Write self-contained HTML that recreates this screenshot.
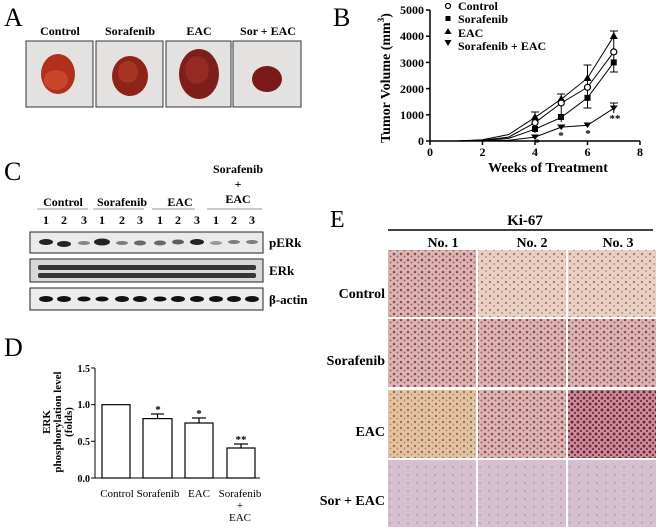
<!DOCTYPE html>
<html><head><meta charset="utf-8"><style>
html,body{margin:0;padding:0;background:#fff;}
svg{display:block;font-family:"Liberation Serif",serif;}
</style></head><body>
<svg width="660" height="530" viewBox="0 0 660 530" xmlns="http://www.w3.org/2000/svg">
<defs>
<pattern id="dots1" width="7" height="6" patternUnits="userSpaceOnUse"><rect width="7" height="6" fill="#d8b6bc"/><circle cx="2" cy="2" r="1.3" fill="#9a4a30"/><circle cx="5.5" cy="4.5" r="1" fill="#b06040"/></pattern>
<pattern id="dots2" width="8" height="7" patternUnits="userSpaceOnUse"><rect width="8" height="7" fill="#e6d0c8"/><circle cx="2" cy="2" r="1.1" fill="#b07040"/><circle cx="6" cy="5" r="0.9" fill="#c08050"/></pattern>
<pattern id="dots3" width="6" height="6" patternUnits="userSpaceOnUse"><rect width="6" height="6" fill="#c890a0"/><circle cx="2" cy="2" r="1.5" fill="#7a2030"/><circle cx="5" cy="5" r="1.2" fill="#8a3040"/></pattern>
<pattern id="dots4" width="9" height="8" patternUnits="userSpaceOnUse"><rect width="9" height="8" fill="#d6c0cf"/><circle cx="3" cy="3" r="0.7" fill="#a08090"/></pattern>
<pattern id="dots5" width="7" height="6" patternUnits="userSpaceOnUse"><rect width="7" height="6" fill="#e0c4a8"/><circle cx="2" cy="2" r="1.2" fill="#b06a30"/><circle cx="5.5" cy="4.5" r="0.9" fill="#c08040"/></pattern>
</defs>

<!-- Panel A -->
<text x="4" y="26" font-size="26">A</text>
<g font-size="12" font-weight="bold" text-anchor="middle">
<text x="60" y="35">Control</text><text x="130" y="35">Sorafenib</text><text x="199" y="35">EAC</text><text x="268" y="35">Sor + EAC</text>
</g>
<g stroke="#333" stroke-width="1" fill="#e4e2e0">
<rect x="26" y="41" width="67" height="66"/><rect x="96" y="41" width="67" height="66"/><rect x="166" y="41" width="65" height="66"/><rect x="233" y="41" width="68" height="66"/>
</g>
<ellipse cx="58" cy="74" rx="17" ry="20" fill="#b0301c"/><ellipse cx="56" cy="80" rx="12" ry="10" fill="#c8462a"/>
<ellipse cx="130" cy="76" rx="18" ry="20" fill="#8e2418"/><ellipse cx="128" cy="72" rx="10" ry="11" fill="#a83424"/>
<ellipse cx="199" cy="74" rx="20" ry="25" fill="#7e1e1a"/><ellipse cx="197" cy="70" rx="12" ry="14" fill="#962a22"/>
<ellipse cx="267" cy="79" rx="15" ry="13" fill="#7a1a18"/>

<!-- Panel B -->
<text x="333" y="26" font-size="26">B</text>
<g stroke="#000" stroke-width="1.5" fill="none">
<line x1="430" y1="10" x2="430" y2="141"/><line x1="430" y1="141" x2="640" y2="141"/>
<line x1="426" y1="141" x2="430" y2="141"/><line x1="426" y1="114.8" x2="430" y2="114.8"/><line x1="426" y1="88.6" x2="430" y2="88.6"/><line x1="426" y1="62.4" x2="430" y2="62.4"/><line x1="426" y1="36.2" x2="430" y2="36.2"/><line x1="426" y1="10" x2="430" y2="10"/>
<line x1="430" y1="141" x2="430" y2="145"/><line x1="482.5" y1="141" x2="482.5" y2="145"/><line x1="535" y1="141" x2="535" y2="145"/><line x1="587.5" y1="141" x2="587.5" y2="145"/><line x1="640" y1="141" x2="640" y2="145"/>
</g>
<g font-size="12" font-weight="bold" text-anchor="end">
<text x="424" y="145">0</text><text x="424" y="119">1000</text><text x="424" y="93">2000</text><text x="424" y="67">3000</text><text x="424" y="40">4000</text><text x="424" y="14">5000</text>
</g>
<g font-size="12" font-weight="bold" text-anchor="middle">
<text x="430" y="156">0</text><text x="482.5" y="156">2</text><text x="535" y="156">4</text><text x="587.5" y="156">6</text><text x="640" y="156">8</text>
</g>
<text x="548" y="172" font-size="14" font-weight="bold" text-anchor="middle">Weeks of Treatment</text>
<text transform="translate(390,78) rotate(-90)" font-size="14" font-weight="bold" text-anchor="middle">Tumor Volume (mm<tspan font-size="9" dy="-6">3</tspan><tspan dy="6">)</tspan></text>
<g stroke="#000" stroke-width="1" fill="none">
<polyline points="456.25,141 482.5,140.2 508.75,137.1 535,122.7 561.25,103 587.5,87.3 613.75,51.9"/>
<polyline points="456.25,141 482.5,140.5 508.75,138.4 535,129.2 561.25,117.4 587.5,97.8 613.75,62.4"/>
<polyline points="456.25,141 482.5,139.7 508.75,134.5 535,117.4 561.25,99.1 587.5,78.1 613.75,36.2"/>
<polyline points="456.25,141 482.5,140.7 508.75,140.2 535,137.1 561.25,127.1 587.5,125.3 613.75,108.3"/>
<line x1="535" y1="112" x2="535" y2="133"/><line x1="561.25" y1="94" x2="561.25" y2="122"/><line x1="587.5" y1="65" x2="587.5" y2="108"/><line x1="613.75" y1="31" x2="613.75" y2="72"/><line x1="613.75" y1="103" x2="613.75" y2="113"/>
<line x1="531" y1="112" x2="539" y2="112"/><line x1="557" y1="94" x2="565" y2="94"/><line x1="583.5" y1="65" x2="591.5" y2="65"/><line x1="583.5" y1="108" x2="591.5" y2="108"/><line x1="610" y1="31" x2="618" y2="31"/><line x1="610" y1="72" x2="618" y2="72"/><line x1="610" y1="103" x2="618" y2="103"/>
</g>
<g fill="#000">
<rect x="532" y="126" width="6" height="6"/><rect x="558" y="114" width="6" height="6"/><rect x="584.5" y="94.8" width="6" height="6"/><rect x="610.75" y="59.4" width="6" height="6"/>
<polygon points="535,113 531,120 539,120"/><polygon points="561.25,95 557,102 565.5,102"/><polygon points="587.5,74 583.5,81 591.5,81"/><polygon points="613.75,32 609.75,39 617.75,39"/>
<polygon points="531,134.5 539,134.5 535,140"/><polygon points="557,124.5 565.5,124.5 561.25,130"/><polygon points="583.5,122.5 591.5,122.5 587.5,128"/><polygon points="609.75,105.5 617.75,105.5 613.75,111"/>
</g>
<g fill="#fff" stroke="#000" stroke-width="1.2">
<circle cx="535" cy="122.7" r="3"/><circle cx="561.25" cy="103" r="3"/><circle cx="587.5" cy="87.3" r="3"/><circle cx="613.75" cy="51.9" r="3"/>
</g>
<g font-size="11" font-weight="bold" text-anchor="middle">
<text x="537" y="146">*</text><text x="561" y="139">*</text><text x="588" y="137">*</text><text x="615" y="122">**</text>
</g>
<circle cx="448" cy="6" r="2.5" fill="#fff" stroke="#000" stroke-width="1.2"/>
<rect x="445.5" y="16" width="5" height="5" fill="#000"/>
<polygon points="448,28 444.5,34 451.5,34" fill="#000"/>
<polygon points="444.5,40 451.5,40 448,46" fill="#000"/>
<g font-size="12" font-weight="bold">
<text x="458" y="10">Control</text><text x="458" y="23">Sorafenib</text><text x="458" y="37">EAC</text><text x="458" y="50">Sorafenib + EAC</text>
</g>

<!-- Panel C -->
<text x="4" y="180" font-size="26">C</text>
<g font-size="12" font-weight="bold" text-anchor="middle">
<text x="63" y="206">Control</text><text x="122" y="206">Sorafenib</text><text x="180" y="206">EAC</text>
<text x="238" y="173">Sorafenib</text><text x="238" y="188">+</text><text x="238" y="203">EAC</text>
</g>
<g stroke="#999" stroke-width="1"><line x1="37" y1="209" x2="88" y2="209"/><line x1="93" y1="209" x2="144" y2="209"/><line x1="152" y1="209" x2="195" y2="209"/><line x1="207" y1="209" x2="262" y2="209"/></g>
<g font-size="12" font-weight="bold" text-anchor="middle">
<text x="46" y="224">1</text><text x="64" y="224">2</text><text x="84" y="224">3</text><text x="102" y="224">1</text><text x="122" y="224">2</text><text x="140" y="224">3</text><text x="160" y="224">1</text><text x="178" y="224">2</text><text x="197" y="224">3</text><text x="216" y="224">1</text><text x="234" y="224">2</text><text x="252" y="224">3</text>
</g>
<rect x="30" y="232" width="233" height="21" fill="#eaeaea" stroke="#222"/>
<rect x="30" y="259" width="233" height="23" fill="#d8d8d8" stroke="#222"/>
<rect x="30" y="288" width="233" height="22" fill="#ececec" stroke="#222"/>
<g fill="#222">
<ellipse cx="46" cy="242" rx="7" ry="3" /><ellipse cx="64" cy="244" rx="7" ry="3"/><ellipse cx="84" cy="243" rx="6" ry="2" opacity=".5"/>
<ellipse cx="102" cy="242" rx="8" ry="3.5"/><ellipse cx="122" cy="243" rx="6" ry="2" opacity=".55"/><ellipse cx="140" cy="243" rx="6" ry="2.5" opacity=".65"/>
<ellipse cx="160" cy="243" rx="6" ry="2.5" opacity=".65"/><ellipse cx="178" cy="242" rx="6" ry="2.5" opacity=".7"/><ellipse cx="197" cy="242" rx="7" ry="3"/>
<ellipse cx="216" cy="243" rx="6" ry="2" opacity=".4"/><ellipse cx="234" cy="242" rx="6" ry="2" opacity=".55"/><ellipse cx="252" cy="242" rx="6" ry="2" opacity=".55"/>
</g>
<g fill="#1a1a1a" opacity=".85">
<rect x="38" y="265" width="218" height="5" rx="2"/><rect x="38" y="273" width="218" height="5" rx="2"/>
</g>
<g fill="#111">
<ellipse cx="46" cy="299" rx="7" ry="3"/><ellipse cx="64" cy="299" rx="7" ry="3"/><ellipse cx="84" cy="299" rx="6.5" ry="2.5"/><ellipse cx="102" cy="299" rx="6.5" ry="2.5"/><ellipse cx="122" cy="299" rx="7" ry="3"/><ellipse cx="140" cy="299" rx="7" ry="3"/><ellipse cx="160" cy="299" rx="6.5" ry="2.5"/><ellipse cx="178" cy="299" rx="7" ry="3"/><ellipse cx="197" cy="299" rx="7" ry="3"/><ellipse cx="216" cy="299" rx="7" ry="3"/><ellipse cx="234" cy="299" rx="7" ry="3"/><ellipse cx="252" cy="299" rx="7" ry="3"/>
</g>
<g font-size="13" font-weight="bold">
<text x="269" y="247">pERk</text><text x="269" y="275">ERk</text><text x="269" y="304">β-actin</text>
</g>

<!-- Panel D -->
<text x="4" y="356" font-size="26">D</text>
<g stroke="#000" stroke-width="1">
<line x1="95" y1="368" x2="95" y2="478"/><line x1="95" y1="478" x2="260" y2="478"/>
<line x1="91" y1="368" x2="95" y2="368"/><line x1="91" y1="404.7" x2="95" y2="404.7"/><line x1="91" y1="441.3" x2="95" y2="441.3"/><line x1="91" y1="478" x2="95" y2="478"/>
</g>
<g font-size="10" text-anchor="end" font-weight="bold">
<text x="90" y="372">1.5</text><text x="90" y="408">1.0</text><text x="90" y="445">0.5</text><text x="90" y="482">0.0</text>
</g>
<g fill="#fff" stroke="#000" stroke-width="1.2">
<rect x="102" y="404.7" width="28" height="73.3"/><rect x="143" y="418.6" width="29" height="59.4"/><rect x="185" y="423" width="28" height="55"/><rect x="227" y="448" width="28" height="30"/>
</g>
<g stroke="#000" stroke-width="1.2">
<line x1="157.5" y1="418.6" x2="157.5" y2="414"/><line x1="151" y1="414" x2="164" y2="414"/>
<line x1="199" y1="423" x2="199" y2="418"/><line x1="192" y1="418" x2="206" y2="418"/>
<line x1="241" y1="448" x2="241" y2="444"/><line x1="234" y1="444" x2="248" y2="444"/>
</g>
<g font-size="11" font-weight="bold" text-anchor="middle">
<text x="158" y="413">*</text><text x="199" y="417">*</text><text x="241" y="443">**</text>
</g>
<g font-size="11" text-anchor="middle">
<text x="117" y="497">Control</text><text x="158" y="497">Sorafenib</text><text x="199" y="497">EAC</text><text x="240" y="497">Sorafenib</text><text x="240" y="509">+</text><text x="240" y="521">EAC</text>
</g>
<g font-size="11" font-weight="bold" text-anchor="middle">
<text transform="translate(50,422) rotate(-90)">ERK</text>
<text transform="translate(61,422) rotate(-90)">phosphorylation level</text>
<text transform="translate(72,422) rotate(-90)">(folds)</text>
</g>

<!-- Panel E -->
<text x="330" y="227" font-size="24">E</text>
<text x="525" y="225" font-size="15" font-weight="bold" text-anchor="middle">Ki-67</text>
<line x1="388" y1="230" x2="653" y2="230" stroke="#000" stroke-width="1.5"/>
<g font-size="14" font-weight="bold" text-anchor="middle">
<text x="443" y="247">No. 1</text><text x="532" y="247">No. 2</text><text x="618" y="247">No. 3</text>
</g>
<rect x="388" y="250" width="88" height="67" fill="url(#dots1)"/>
<rect x="478" y="250" width="88" height="67" fill="url(#dots2)"/>
<rect x="568" y="250" width="88" height="67" fill="url(#dots2)"/>
<rect x="388" y="319" width="88" height="68" fill="url(#dots1)"/>
<rect x="478" y="319" width="88" height="68" fill="url(#dots1)"/>
<rect x="568" y="319" width="88" height="68" fill="url(#dots1)"/>
<rect x="388" y="390" width="88" height="68" fill="url(#dots5)"/>
<rect x="478" y="390" width="88" height="68" fill="url(#dots1)"/>
<rect x="568" y="390" width="88" height="68" fill="url(#dots3)"/>
<rect x="388" y="460" width="88" height="67" fill="url(#dots4)"/>
<rect x="478" y="460" width="88" height="67" fill="url(#dots4)"/>
<rect x="568" y="460" width="88" height="67" fill="url(#dots4)"/>
<g font-size="14" font-weight="bold" text-anchor="end">
<text x="385" y="298">Control</text><text x="385" y="365">Sorafenib</text><text x="385" y="436">EAC</text><text x="385" y="505">Sor + EAC</text>
</g>
</svg>
</body></html>
